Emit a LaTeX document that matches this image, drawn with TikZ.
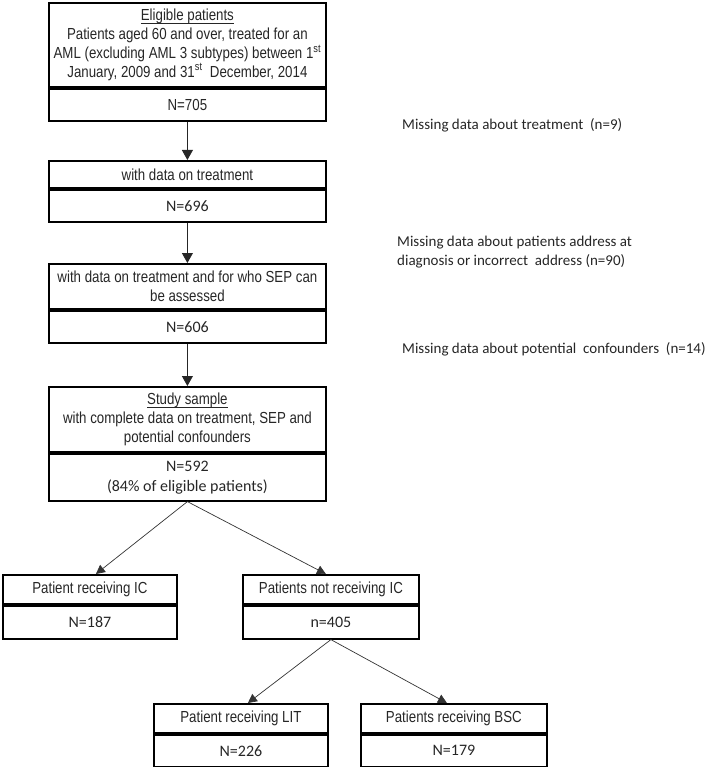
\documentclass[tikz,border=0pt]{standalone}
\usepackage{fontspec}
\setmainfont[FakeStretch=0.83]{Liberation Sans}
\newfontfamily\calib{Carlito}
\usetikzlibrary{arrows.meta}
\definecolor{txt}{HTML}{262626}
\newcommand\myul[1]{\setbox0\hbox{#1}\rlap{\rule[-2.6pt]{\wd0}{0.8pt}}\box0}
\begin{document}
\begin{tikzpicture}[x=1pt,y=-1pt,
  box/.style={draw=black,line width=1.8pt,inner sep=0pt,align=center,
    font=\fontsize{16}{18.7}\selectfont,text=txt},
  mainw/.style={minimum width=277pt},
  arr/.style={line width=0.8pt,draw=black!85,-{Triangle[width=11pt,length=10pt]}},
  darr/.style={line width=0.7pt,draw=black!80,-{Triangle[width=9pt,length=9pt]}},
  note/.style={anchor=west,inner sep=0pt,align=left,
    font=\calib\fontsize{15}{19}\selectfont,text=txt},
  cnum/.style={font=\calib\fontsize{16}{20}\selectfont}]
\useasboundingbox (0,0) rectangle (709,767);

% Box 1
\node[box,mainw,minimum height=84pt,anchor=north west] (b1) at (48,2)
  {\myul{Eligible patients}\\
   Patients aged 60 and over, treated for an\\
   AML (excluding AML 3 subtypes) between 1\textsuperscript{st}\\
   January, 2009 and 31\textsuperscript{st}\ \ December, 2014};
\node[box,mainw,minimum height=32pt,anchor=north] (b1n) at (b1.south) {N=705};

% Box 2
\node[box,mainw,minimum height=27pt,anchor=north west] (b2) at (48,160)
  {with data on treatment};
\node[box,mainw,cnum,minimum height=32pt,anchor=north] (b2n) at (b2.south) {N=696};

% Box 3
\node[box,mainw,minimum height=45pt,anchor=north west] (b3) at (48,263)
  {with data on treatment and for who SEP can\\ be assessed};
\node[box,mainw,cnum,minimum height=32pt,anchor=north] (b3n) at (b3.south) {N=606};

% Box 4
\node[box,mainw,minimum height=65pt,anchor=north west] (b4) at (48,386)
  {\myul{Study sample}\\
   with complete data on treatment, SEP and\\
   potential confounders};
\node[box,mainw,cnum,minimum height=47pt,anchor=north] (b4n) at (b4.south)
  {N=592\\(84\% of eligible patients)};

% Second level
\node[box,minimum width=174pt,minimum height=29pt,anchor=north west] (ic) at (2,574)
  {Patient receiving IC};
\node[box,cnum,minimum width=174pt,minimum height=33pt,anchor=north] (icn) at (ic.south) {N=187};

\node[box,minimum width=176pt,minimum height=29pt,anchor=north west] (nic) at (242,574)
  {Patients not receiving IC};
\node[box,cnum,minimum width=176pt,minimum height=33pt,anchor=north] (nicn) at (nic.south) {n=405};

% Third level
\node[box,minimum width=174pt,minimum height=29pt,anchor=north west] (lit) at (153,703)
  {Patient receiving LIT};
\node[box,cnum,minimum width=174pt,minimum height=32pt,anchor=north] (litn) at (lit.south) {N=226};

\node[box,minimum width=186pt,minimum height=29pt,anchor=north west] (bsc) at (360,703)
  {Patients receiving BSC};
\node[box,cnum,minimum width=186pt,minimum height=32pt,anchor=north] (bscn) at (bsc.south) {N=179};

% Notes
\node[note] (m1) at (402,125) {Missing data about treatment\ \ (n=9)};
\node[note] (m2) at (397,252.5) {Missing data about patients address at\\
  diagnosis or incorrect\ \ address (n=90)};
\node[note] (m3) at (402,349) {Missing data about potential\ \ confounders\ \ (n=14)};

% Connectors
\draw[arr] (b1n.south) -- (b2.north);
\draw[arr] (b2n.south) -- (b3.north);
\draw[arr] (b3n.south) -- (b4.north);
\draw[darr] (b4n.south) -- ([xshift=6pt]ic.north);
\draw[darr] (b4n.south) -- ([xshift=-5pt]nic.north);
\draw[darr] (nicn.south) -- ([xshift=7pt]lit.north);
\draw[darr] (nicn.south) -- ([xshift=-7pt]bsc.north);
\end{tikzpicture}
\end{document}
